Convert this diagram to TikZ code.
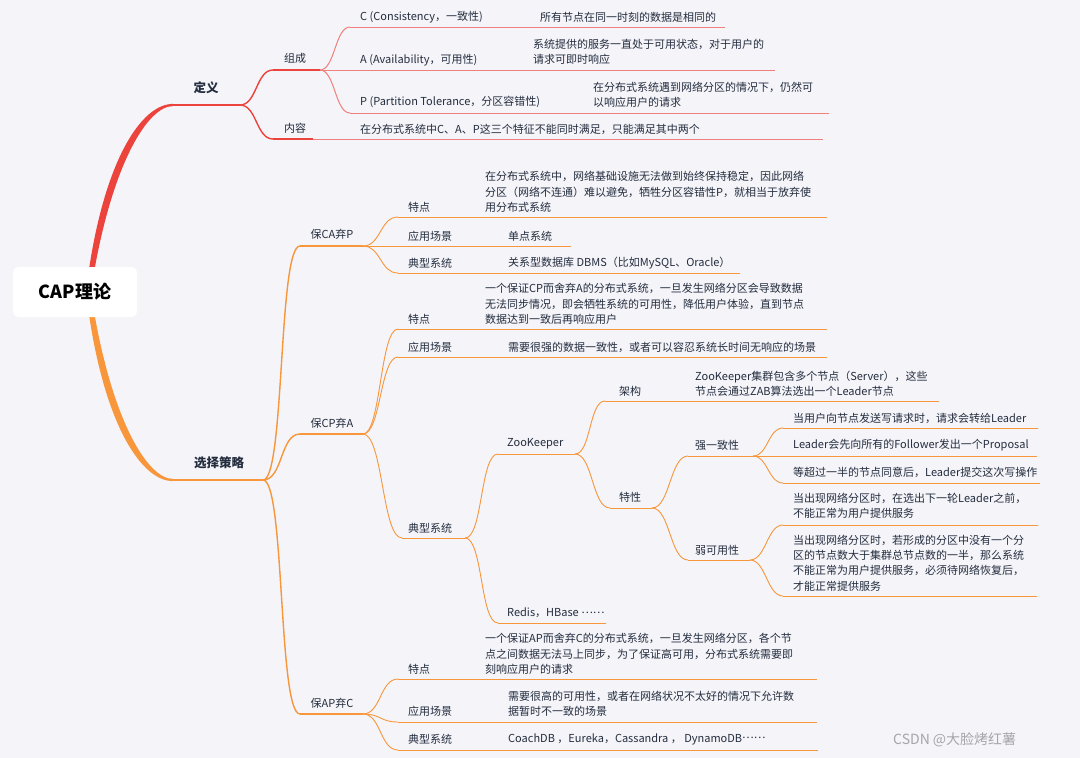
\documentclass[tikz,border=0pt]{standalone}
\usepackage{fontspec}
\setmainfont{Noto Sans CJK SC}
\usetikzlibrary{calc}
\definecolor{bg}{RGB}{244,244,249}
\definecolor{redc}{RGB}{236,68,60}
\definecolor{redl}{RGB}{241,128,124}
\definecolor{orc}{RGB}{247,150,58}
\definecolor{txt}{RGB}{36,45,62}
\definecolor{wm}{RGB}{165,165,170}
\newcommand\cn[4]{\draw[#1] (#2) .. controls +(#4,0) and +(-#4,0) .. (#3);}
\newcommand\mdots{\raisebox{3.3pt}{……}}
\begin{document}
\begin{tikzpicture}[x=1pt,y=-1pt,
  lbl/.style={inner sep=0pt, text=txt, font=\fontsize{11}{15.3}\selectfont},
  leaf/.style={lbl, anchor=west, align=left},
  mainlbl/.style={inner sep=0pt, text=txt, font=\fontsize{12.5}{15}\selectfont\bfseries},
  rl2/.style={draw=redc, line width=1.4pt},
  rl3/.style={draw=redl, line width=1pt},
  ol2/.style={draw=orc, line width=1.4pt},
  ol3/.style={draw=orc, line width=0.9pt}]
\fill[bg] (0,0) rectangle (1080,758);
\useasboundingbox (0,0) rectangle (1080,758);

% ---------- coordinates ----------
\coordinate (rtop) at (92,268);
\coordinate (rbot) at (92,316);
\coordinate (dys) at (173,105); \coordinate (dye) at (240,105);
\coordinate (zcs) at (273,70);  \coordinate (zce) at (320,70);
\coordinate (nrs) at (273,139); \coordinate (nrm) at (313,139); \coordinate (nre) at (823,139);
\coordinate (cs) at (350,27);   \coordinate (ce) at (725,27);
\coordinate (ae) at (775,70);
\coordinate (ps) at (350,113);  \coordinate (pe) at (829,113);

\coordinate (xzs) at (173,480); \coordinate (xze) at (263,480);
\coordinate (cas) at (300,246); \coordinate (cae) at (363,246);
\coordinate (cps) at (300,434); \coordinate (cpe) at (363,434);
\coordinate (aps) at (300,714); \coordinate (ape) at (363,714);

\coordinate (ca1s) at (398,217); \coordinate (ca1e) at (827,217);
\coordinate (ca2s) at (398,246); \coordinate (ca2e) at (571,246);
\coordinate (ca3s) at (398,273); \coordinate (ca3e) at (740,273);

\coordinate (cp1s) at (398,329); \coordinate (cp1e) at (827,329);
\coordinate (cp2s) at (398,357); \coordinate (cp2e) at (827,357);
\coordinate (cp3s) at (402,538); \coordinate (cp3e) at (465,538);
\coordinate (zks) at (498,454);  \coordinate (zke) at (575,454);
\coordinate (rds) at (498,623);  \coordinate (rde) at (606,623);
\coordinate (jgs) at (605,401);  \coordinate (jge) at (939,401);
\coordinate (txs) at (610,508);  \coordinate (txe) at (652,508);
\coordinate (qys) at (688,456);  \coordinate (qye) at (753,456);
\coordinate (rys) at (688,560);  \coordinate (rye) at (750,560);
\coordinate (q1s) at (783,428);  \coordinate (q1e) at (1038,428);
\coordinate (q2e) at (1037,456);
\coordinate (q3s) at (783,483);  \coordinate (q3e) at (1040,483);
\coordinate (r1s) at (783,525);  \coordinate (r1e) at (1038,525);
\coordinate (r2s) at (783,596);  \coordinate (r2e) at (1037,596);

\coordinate (a1s) at (398,679); \coordinate (a1e) at (817,679);
\coordinate (a2s) at (398,722); \coordinate (a2e) at (817,722);
\coordinate (a3s) at (398,750); \coordinate (a3e) at (818,750);

% ---------- thick main branches ----------
\fill[redc] ([xshift=-2.8pt]rtop) .. controls (106,158) and (142,103.9) .. ([yshift=1.1pt]dys)
  -- ([yshift=-1.1pt]dys) .. controls (148,106.1) and (114,162) .. ([xshift=2.8pt]rtop) -- cycle;
\fill[orc] ([xshift=-2.8pt]rbot) .. controls (106,427) and (142,481.1) .. ([yshift=-1.1pt]xzs)
  -- ([yshift=1.1pt]xzs) .. controls (148,478.9) and (114,423) .. ([xshift=2.8pt]rbot) -- cycle;
\draw[draw=redc, line width=2.2pt] (dys) -- (dye);
\draw[draw=orc, line width=2.2pt] (xzs) -- (xze);

% ---------- red section ----------
\cn{rl2}{dye}{zcs}{17}
\cn{rl2}{dye}{nrs}{17}
\draw[rl2] (zcs) -- (zce);
\draw[rl2] (nrs) -- (nrm);
\draw[rl3] (nrm) -- (nre);
\cn{rl3}{zce}{cs}{15}
\draw[rl3] (cs) -- (ce);
\draw[rl3] (zce) -- (ae);
\cn{rl3}{zce}{ps}{15}
\draw[rl3] (ps) -- (pe);

% ---------- orange section ----------
\cn{ol2}{xze}{cas}{22}
\cn{ol2}{xze}{cps}{20}
\cn{ol2}{xze}{aps}{22}
\draw[ol2] (cas) -- (cae);
\draw[ol2] (cps) -- (cpe);
\draw[ol2] (aps) -- (ape);

\cn{ol3}{cae}{ca1s}{18} \draw[ol3] (ca1s) -- (ca1e);
\cn{ol3}{cae}{ca2s}{18} \draw[ol3] (ca2s) -- (ca2e);
\cn{ol3}{cae}{ca3s}{18} \draw[ol3] (ca3s) -- (ca3e);

\cn{ol3}{cpe}{cp1s}{18} \draw[ol3] (cp1s) -- (cp1e);
\cn{ol3}{cpe}{cp2s}{18} \draw[ol3] (cp2s) -- (cp2e);
\cn{ol3}{cpe}{cp3s}{20} \draw[ol3] (cp3s) -- (cp3e);

\cn{ol3}{cp3e}{zks}{18} \draw[ol3] (zks) -- (zke);
\cn{ol3}{cp3e}{rds}{18} \draw[ol3] (rds) -- (rde);
\cn{ol3}{zke}{jgs}{16} \draw[ol3] (jgs) -- (jge);
\cn{ol3}{zke}{txs}{18} \draw[ol3] (txs) -- (txe);
\cn{ol3}{txe}{qys}{18} \draw[ol3] (qys) -- (qye);
\cn{ol3}{txe}{rys}{18} \draw[ol3] (rys) -- (rye);
\cn{ol3}{qye}{q1s}{15} \draw[ol3] (q1s) -- (q1e);
\draw[ol3] (qye) -- (q2e);
\cn{ol3}{qye}{q3s}{15} \draw[ol3] (q3s) -- (q3e);
\cn{ol3}{rye}{r1s}{16} \draw[ol3] (r1s) -- (r1e);
\cn{ol3}{rye}{r2s}{16} \draw[ol3] (r2s) -- (r2e);

\cn{ol3}{ape}{a1s}{18} \draw[ol3] (a1s) -- (a1e);
\cn{ol3}{ape}{a2s}{18} \draw[ol3] (a2s) -- (a2e);
\cn{ol3}{ape}{a3s}{18} \draw[ol3] (a3s) -- (a3e);

% ---------- root ----------
\node[fill=white, rounded corners=5pt, minimum width=124pt, minimum height=50pt, inner sep=0pt,
  font=\fontsize{18}{20}\selectfont\bfseries, text=black] (root) at (75,292) {CAP理论};

% ---------- labels: definition ----------
\node[mainlbl] (dy) at (206,88) {定义};
\node[lbl] (zc) at (295,58) {组成};
\node[lbl] (nr) at (295,128) {内容};
\node[leaf] (C) at (360,17) {C (Consistency，一致性)};
\node[leaf] (Cl) at (540,17) {所有节点在同一时刻的数据是相同的};
\node[leaf] (A) at (360,60) {A (Availability，可用性)};
\node[leaf] (Al) at (533,52) {系统提供的服务一直处于可用状态，对于用户的\\请求可即时响应};
\node[leaf] (P) at (360,102) {P (Partition Tolerance，分区容错性)};
\node[leaf] (Pl) at (593,94.5) {在分布式系统遇到网络分区的情况下，仍然可\\以响应用户的请求};
\node[leaf] (nrl) at (360,129) {在分布式系统中C、A、P这三个特征不能同时满足，只能满足其中两个};

% ---------- labels: strategy ----------
\node[mainlbl] (xz) at (219,463) {选择策略};
\node[lbl] (ca) at (332,234) {保CA弃P};
\node[lbl] (cp) at (332,423) {保CP弃A};
\node[lbl] (ap) at (332,703) {保AP弃C};

\node[leaf] (ca1) at (408,207) {特点};
\node[leaf] (ca1l) at (485,192) {在分布式系统中，网络基础设施无法做到始终保持稳定，因此网络\\分区（网络不连通）难以避免，牺牲分区容错性P，就相当于放弃使\\用分布式系统};
\node[leaf] (ca2) at (408,236) {应用场景};
\node[leaf] (ca2l) at (508,236) {单点系统};
\node[leaf] (ca3) at (408,263) {典型系统};
\node[leaf] (ca3l) at (508,263) {关系型数据库 DBMS（比如MySQL、Oracle）};

\node[leaf] (cp1) at (408,319) {特点};
\node[leaf] (cp1l) at (485,304) {一个保证CP而舍弃A的分布式系统，一旦发生网络分区会导致数据\\无法同步情况，即会牺牲系统的可用性，降低用户体验，直到节点\\数据达到一致后再响应用户};
\node[leaf] (cp2) at (408,347) {应用场景};
\node[leaf] (cp2l) at (508,347) {需要很强的数据一致性，或者可以容忍系统长时间无响应的场景};
\node[leaf] (cp3) at (408,528) {典型系统};
\node[leaf] (zk) at (507,444) {ZooKeeper};
\node[leaf] (rd) at (507,613) {Redis，HBase \mdots};
\node[lbl] (jg) at (630,391) {架构};
\node[leaf] (jgl) at (695,383.5) {ZooKeeper集群包含多个节点（Server），这些\\节点会通过ZAB算法选出一个Leader节点};
\node[lbl] (tx) at (630,497) {特性};
\node[lbl] (qy) at (717,445) {强一致性};
\node[lbl] (ry) at (717,550) {弱可用性};
\node[leaf] (q1) at (793,418) {当用户向节点发送写请求时，请求会转给Leader};
\node[leaf] (q2) at (793,445) {Leader会先向所有的Follower发出一个Proposal};
\node[leaf] (q3) at (793,472) {等超过一半的节点同意后，Leader提交这次写操作};
\node[leaf] (r1) at (793,506) {当出现网络分区时，在选出下一轮Leader之前，\\不能正常为用户提供服务};
\node[leaf] (r2) at (793,563) {当出现网络分区时，若形成的分区中没有一个分\\区的节点数大于集群总节点数的一半，那么系统\\不能正常为用户提供服务，必须待网络恢复后，\\才能正常提供服务};

\node[leaf] (a1) at (408,669) {特点};
\node[leaf] (a1l) at (485,654) {一个保证AP而舍弃C的分布式系统，一旦发生网络分区，各个节\\点之间数据无法马上同步，为了保证高可用，分布式系统需要即\\刻响应用户的请求};
\node[leaf] (a2) at (408,711) {应用场景};
\node[leaf] (a2l) at (508,703.5) {需要很高的可用性，或者在网络状况不太好的情况下允许数\\据暂时不一致的场景};
\node[leaf] (a3) at (408,739) {典型系统};
\node[leaf] (a3l) at (508,739) {CoachDB ，Eureka，Cassandra ， DynamoDB\mdots};

\node[anchor=west, inner sep=0pt, text=wm, font=\fontsize{14}{16}\selectfont] (wmk) at (893,740) {CSDN @大脸烤红薯};
\end{tikzpicture}
\end{document}
